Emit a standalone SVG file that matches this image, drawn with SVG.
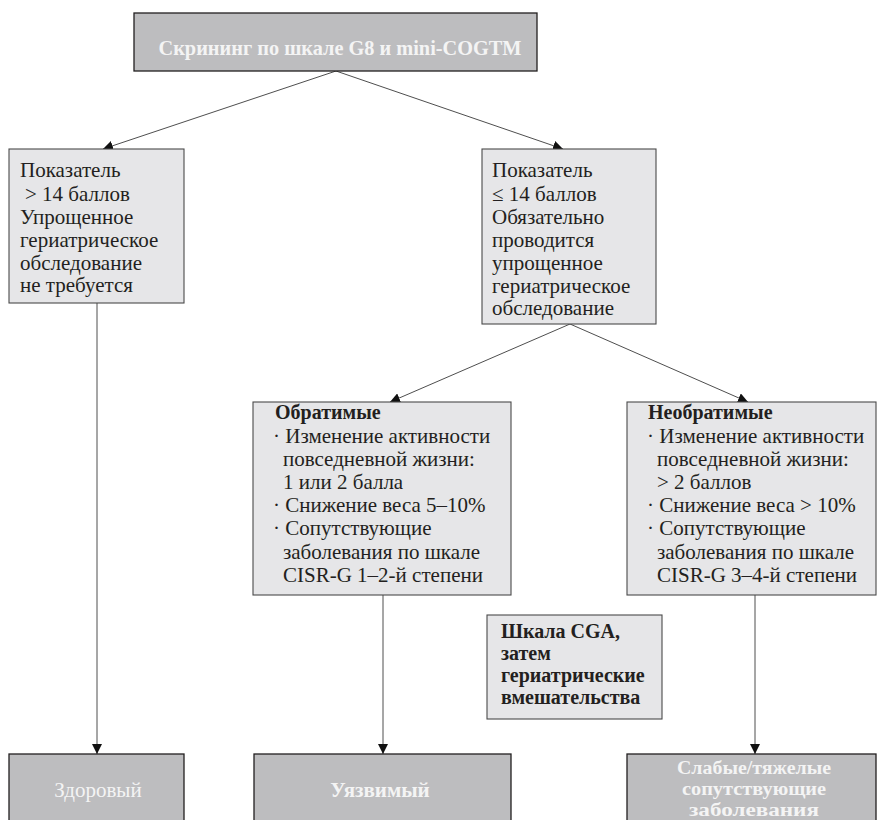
<svg xmlns="http://www.w3.org/2000/svg" width="877" height="820" viewBox="0 0 877 820">
<defs>
<style>
.dark{fill:#bdbdbf;stroke:#231f20;stroke-width:1.3}
.light{fill:#e6e6e8;stroke:#4a4a4a;stroke-width:1.1}
.t{font-family:"Liberation Serif","Times New Roman",serif;font-size:21px;fill:#231f20}
.tb{font-family:"Liberation Serif","Times New Roman",serif;font-size:20px;font-weight:bold;fill:#231f20}
.w{font-family:"Liberation Serif","Times New Roman",serif;font-size:21px;fill:#f4f4f4;text-anchor:middle}
.ws{font-family:"Liberation Serif","Times New Roman",serif;font-size:18.5px;font-weight:bold;fill:#f4f4f4;text-anchor:middle}
.b{font-weight:bold}
.ln{stroke:#3a3a3a;stroke-width:0.9;fill:none}
</style>
<marker id="ah" viewBox="0 0 10 10" refX="10" refY="5" markerWidth="10" markerHeight="10" markerUnits="userSpaceOnUse" orient="auto">
<path d="M0,0 L10,5 L0,10 z" fill="#111"/>
</marker>
</defs>
<rect width="877" height="820" fill="#ffffff"/>

<g id="connectors">
<line class="ln" x1="336" y1="71" x2="103" y2="149" marker-end="url(#ah)"/>
<line class="ln" x1="336" y1="71" x2="563" y2="149" marker-end="url(#ah)"/>
<line class="ln" x1="97" y1="303" x2="97" y2="754" marker-end="url(#ah)"/>
<line class="ln" x1="570" y1="324" x2="390" y2="402" marker-end="url(#ah)"/>
<line class="ln" x1="570" y1="324" x2="748" y2="402" marker-end="url(#ah)"/>
<line class="ln" x1="383" y1="595" x2="383" y2="754" marker-end="url(#ah)"/>
<line class="ln" x1="755" y1="595" x2="755" y2="754" marker-end="url(#ah)"/>
</g>

<g id="screening">
<rect class="dark" x="134" y="13" width="403" height="58"/>
<text class="w b" x="340" y="55" style="font-size:21.5px" textLength="363" lengthAdjust="spacingAndGlyphs">Скрининг по шкале G8 и mini-COGTM</text>
</g>

<g id="score-high">
<rect class="light" x="9" y="149" width="175" height="154"/>
<text class="t" x="20" y="177">Показатель</text>
<text class="t" x="25" y="201">&gt; 14 баллов</text>
<text class="t" x="20" y="224">Упрощенное</text>
<text class="t" x="20" y="247">гериатрическое</text>
<text class="t" x="20" y="270">обследование</text>
<text class="t" x="20" y="292">не требуется</text>
</g>

<g id="score-low">
<rect class="light" x="482" y="149" width="174" height="175"/>
<text class="t" x="492" y="177">Показатель</text>
<text class="t" x="492" y="201">≤ 14 баллов</text>
<text class="t" x="492" y="224">Обязательно</text>
<text class="t" x="492" y="247">проводится</text>
<text class="t" x="492" y="270">упрощенное</text>
<text class="t" x="492" y="293">гериатрическое</text>
<text class="t" x="492" y="315">обследование</text>
</g>

<g id="reversible">
<rect class="light" x="253" y="402" width="258" height="193"/>
<text class="tb" x="275" y="419">Обратимые</text>
<text class="t" x="273" y="443">· Изменение активности</text>
<text class="t" x="283" y="466">повседневной жизни:</text>
<text class="t" x="283" y="489">1 или 2 балла</text>
<text class="t" x="273" y="512">· Снижение веса 5–10%</text>
<text class="t" x="273" y="535">· Сопутствующие</text>
<text class="t" x="283" y="559">заболевания по шкале</text>
<text class="t" x="283" y="582">CISR-G 1–2-й степени</text>
</g>

<g id="irreversible">
<rect class="light" x="627" y="402" width="249" height="193"/>
<text class="tb" x="648" y="419">Необратимые</text>
<text class="t" x="647" y="443">· Изменение активности</text>
<text class="t" x="657" y="466">повседневной жизни:</text>
<text class="t" x="657" y="489">&gt; 2 баллов</text>
<text class="t" x="647" y="512">· Снижение веса &gt; 10%</text>
<text class="t" x="647" y="535">· Сопутствующие</text>
<text class="t" x="657" y="559">заболевания по шкале</text>
<text class="t" x="657" y="582">CISR-G 3–4-й степени</text>
</g>

<g id="cga">
<rect class="light" x="487" y="615" width="175" height="104"/>
<text class="tb" x="501" y="638">Шкала CGA,</text>
<text class="tb" x="501" y="660">затем</text>
<text class="tb" x="501" y="682">гериатрические</text>
<text class="tb" x="501" y="704">вмешательства</text>
</g>

<g id="healthy">
<rect class="dark" x="9" y="754" width="175" height="80"/>
<text class="w" x="98" y="797">Здоровый</text>
</g>

<g id="vulnerable">
<rect class="dark" x="254" y="754" width="257" height="80"/>
<text class="w b" x="380" y="797">Уязвимый</text>
</g>

<g id="frail">
<rect class="dark" x="627" y="754" width="249" height="80"/>
<text class="ws" x="754" y="774" textLength="154" lengthAdjust="spacingAndGlyphs">Слабые/тяжелые</text>
<text class="ws" x="754" y="795" textLength="144" lengthAdjust="spacingAndGlyphs">сопутствующие</text>
<text class="ws" x="754" y="816" textLength="130" lengthAdjust="spacingAndGlyphs">заболевания</text>
</g>
</svg>
